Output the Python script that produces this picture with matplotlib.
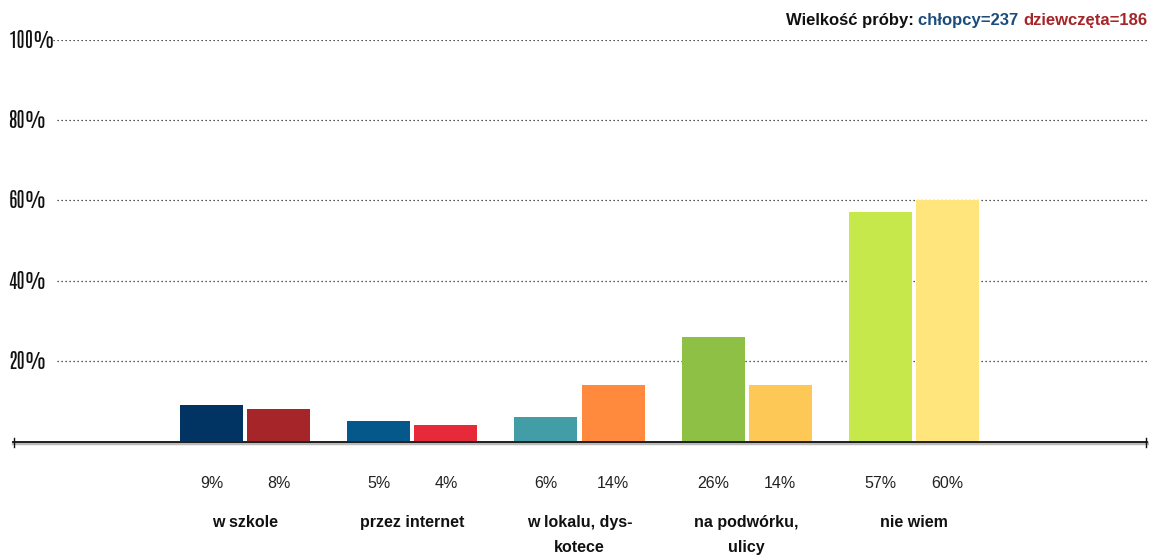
import matplotlib
matplotlib.use("Agg")
import matplotlib.pyplot as plt
import numpy as np
from matplotlib import font_manager

categories = ["w szkole", "przez internet", "w lokalu, dys-\nkotece", "na podwórku,\nulicy", "nie wiem"]
boys = [9, 5, 6, 26, 57]
girls = [8, 4, 14, 14, 60]
boy_colors = ["#013462", "#04588B", "#439DA6", "#8DC044", "#C7E84A"]
girl_colors = ["#A52528", "#E62A3A", "#FF8A3D", "#FDC856", "#FFE57B"]
yticks = [20, 40, 60, 80, 100]
ytick_labels = ["20%", "40%", "60%", "80%", "100%"]

names = {f.name for f in font_manager.fontManager.ttflist}
narrow = next((n for n in ["Antonio", "Oswald", "Roboto Condensed"] if n in names), "DejaVu Sans")
sans = "Liberation Sans"

W, H = 1149, 558
fig = plt.figure(figsize=(W / 100, H / 100), dpi=100)
ax = fig.add_axes([13 / W, (H - 441) / H, (1147 - 13) / W, (441 - 40) / H])
ax.set_xlim(-232 / 167, 4 + 233 / 167)
ax.set_ylim(0, 100)
ax.axis("off")

x = np.arange(len(categories))
bw = 63 / 167
off = 33.5 / 167
ax.bar(x - off, boys, width=bw, color=boy_colors, zorder=3)
ax.bar(x + off, girls, width=bw, color=girl_colors, zorder=3)

trans = ax.get_yaxis_transform()
for yt, lab in zip(yticks, ytick_labels):
    xs = 0.035 if yt == 100 else 0.039
    ax.plot([xs, 1.0], [yt, yt], transform=trans, color="#222222", lw=0.9,
            linestyle=(0, (1, 2.2)), zorder=1)
    ax.text(-0.004, yt, lab, transform=trans, ha="left", va="center",
            fontsize=14.5, family=narrow, color="#111111")

ax.plot([0, 1], [-0.5, -0.5], transform=trans, color="#bbbbbb", lw=2.5, zorder=2, clip_on=False)
ax.plot([0, 1], [-0.3, -0.3], transform=trans, color="#111111", lw=1.3, zorder=2, clip_on=False)
for xe in [0.0005, 0.9995]:
    ax.plot([xe, xe], [-1.4, 0.8], transform=trans, color="#111111", lw=1, clip_on=False)

for i in range(len(categories)):
    ax.text(x[i] - off, -10.5, f"{boys[i]}%", ha="center", va="center", fontsize=11.5,
            family=sans, color="#222222")
    ax.text(x[i] + off, -10.5, f"{girls[i]}%", ha="center", va="center", fontsize=11.5,
            family=sans, color="#222222")
    ax.text(x[i], -18.5, categories[i], ha="center", va="top", fontsize=11.5,
            family=sans, fontweight="bold", color="#111111", linespacing=1.85)

fig.canvas.draw()
renderer = fig.canvas.get_renderer()
parts = [("Wielkość próby: ", "#111111"), ("chłopcy=237 ", "#1B4C7C"), ("dziewczęta=186", "#A52528")]
xr = 1147 / W
yh = (H - 20) / H
for txt, col in reversed(parts):
    t = fig.text(xr, yh, txt, ha="right", va="center", fontsize=12, family=sans,
                 fontweight="bold", color=col)
    bb = t.get_window_extent(renderer=renderer)
    xr = bb.x0 / W

fig.savefig("out.png", dpi=100)
